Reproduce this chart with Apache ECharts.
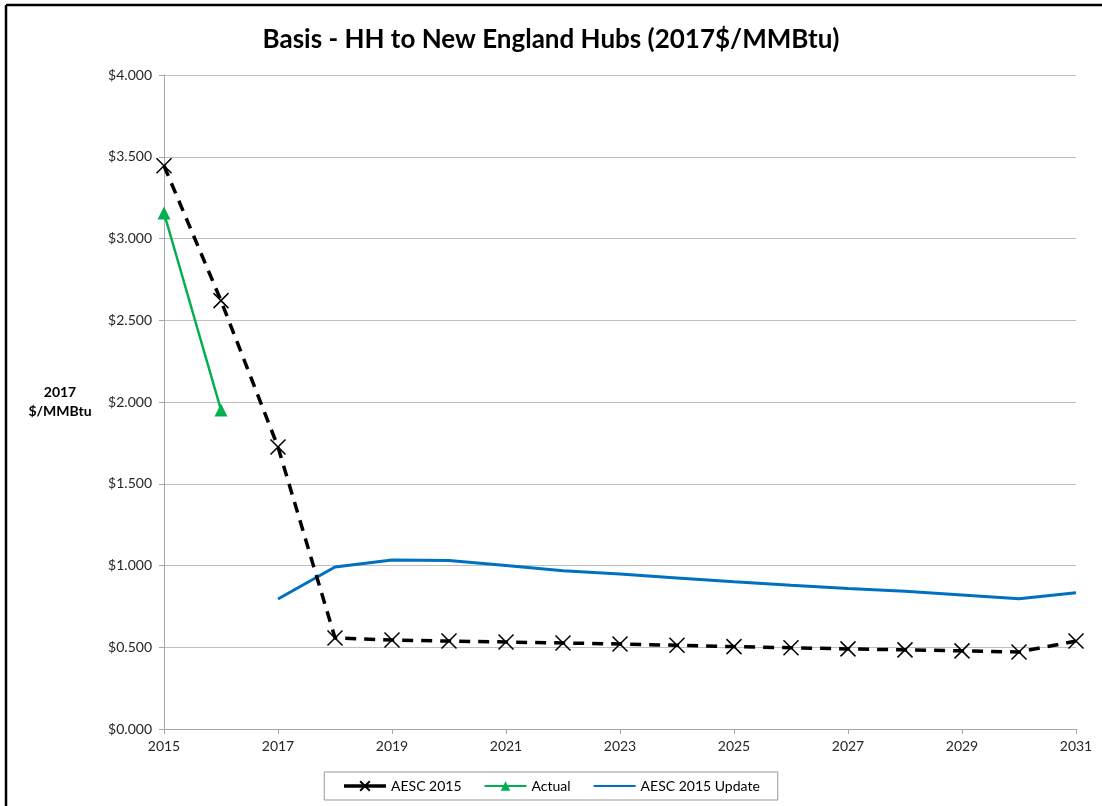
<!DOCTYPE html>
<html>
<head>
<meta charset="utf-8">
<script src="https://cdn.jsdelivr.net/npm/echarts@6/dist/echarts.min.js"></script>
<style>
html,body{margin:0;padding:0;background:#fff;}
#chart{width:1102px;height:806px;}
</style>
</head>
<body>
<div id="chart"></div>
<script>
const years = ['2015','2016','2017','2018','2019','2020','2021','2022','2023','2024','2025','2026','2027','2028','2029','2030','2031'];
const aesc2015 = [3.445, 2.62, 1.725, 0.557, 0.544, 0.538, 0.532, 0.526, 0.52, 0.512, 0.504, 0.497, 0.490, 0.484, 0.478, 0.471, 0.538];
const actual = [3.156, 1.951, null, null, null, null, null, null, null, null, null, null, null, null, null, null, null];
const aescUpdate = [null, null, 0.795, 0.991, 1.034, 1.030, 1.000, 0.968, 0.948, 0.924, 0.900, 0.879, 0.860, 0.842, 0.820, 0.797, 0.834];

const font = 'Lato, "Open Sans", sans-serif';
const chart = echarts.init(document.getElementById('chart'));
const crossPath = 'path://M0,0L10,10M10,0L0,10';
chart.setOption({
  animation: false,
  backgroundColor: '#fff',
  title: {
    text: 'Basis - HH to New England Hubs (2017$/MMBtu)',
    left: 'center',
    top: 22,
    textStyle: {fontFamily: font, fontSize: 26, fontWeight: 'bold', color: '#000'}
  },
  graphic: [
    {type: 'line', shape: {x1: 6, y1: 5, x2: 1102, y2: 5}, style: {stroke: '#000', lineWidth: 2.5}},
    {type: 'line', shape: {x1: 6, y1: 5, x2: 6, y2: 806}, style: {stroke: '#000', lineWidth: 2.5}}
  ],
  grid: {left: 164, right: 26, top: 75, bottom: 77},
  legend: {
    bottom: 6,
    left: 'center',
    itemGap: 22,
    itemWidth: 42,
    itemHeight: 12,
    padding: [7, 18, 7, 18],
    borderColor: '#999',
    borderWidth: 1,
    textStyle: {fontFamily: font, fontSize: 14, color: '#000'},
    data: [
      {name: 'AESC 2015', lineStyle: {type: 'solid', width: 3.5}},
      {name: 'Actual'},
      {name: 'AESC 2015 Update', itemStyle: {opacity: 0}}
    ]
  },
  xAxis: {
    type: 'category',
    data: years,
    boundaryGap: false,
    axisLine: {lineStyle: {color: '#a6a6a6', width: 1}},
    axisTick: {interval: 1, length: 5, lineStyle: {color: '#a6a6a6'}},
    axisLabel: {interval: 1, fontFamily: font, fontSize: 14, color: '#262626', margin: 10},
    splitLine: {show: false}
  },
  yAxis: {
    type: 'value',
    min: 0, max: 4, interval: 0.5,
    name: '2017\n$/MMBtu',
    nameLocation: 'middle',
    nameRotate: 0,
    nameGap: 104,
    nameTextStyle: {fontFamily: font, fontSize: 14, fontWeight: 'bold', color: '#000', lineHeight: 19, align: 'center'},
    axisLine: {show: true, lineStyle: {color: '#a6a6a6', width: 1}},
    axisTick: {show: true, length: 5, lineStyle: {color: '#a6a6a6'}},
    axisLabel: {fontFamily: font, fontSize: 14, color: '#262626', margin: 12,
      formatter: v => '$' + v.toFixed(3)},
    splitLine: {lineStyle: {color: '#bfbfbf', width: 1}}
  },
  series: [
    {
      name: 'AESC 2015',
      type: 'line',
      data: aesc2015,
      symbol: crossPath,
      symbolSize: 15,
      itemStyle: {color: '#000', borderColor: '#000', borderWidth: 1.5},
      lineStyle: {color: '#000', width: 3.5, type: [11, 8]},
      z: 3
    },
    {
      name: 'Actual',
      type: 'line',
      data: actual,
      symbol: 'triangle',
      symbolSize: 13,
      itemStyle: {color: '#00b050'},
      lineStyle: {color: '#00b050', width: 2.5},
      z: 2
    },
    {
      name: 'AESC 2015 Update',
      type: 'line',
      data: aescUpdate,
      symbol: 'none',
      itemStyle: {color: '#0070c0'},
      lineStyle: {color: '#0070c0', width: 3},
      z: 1
    }
  ]
});
</script>
</body>
</html>
